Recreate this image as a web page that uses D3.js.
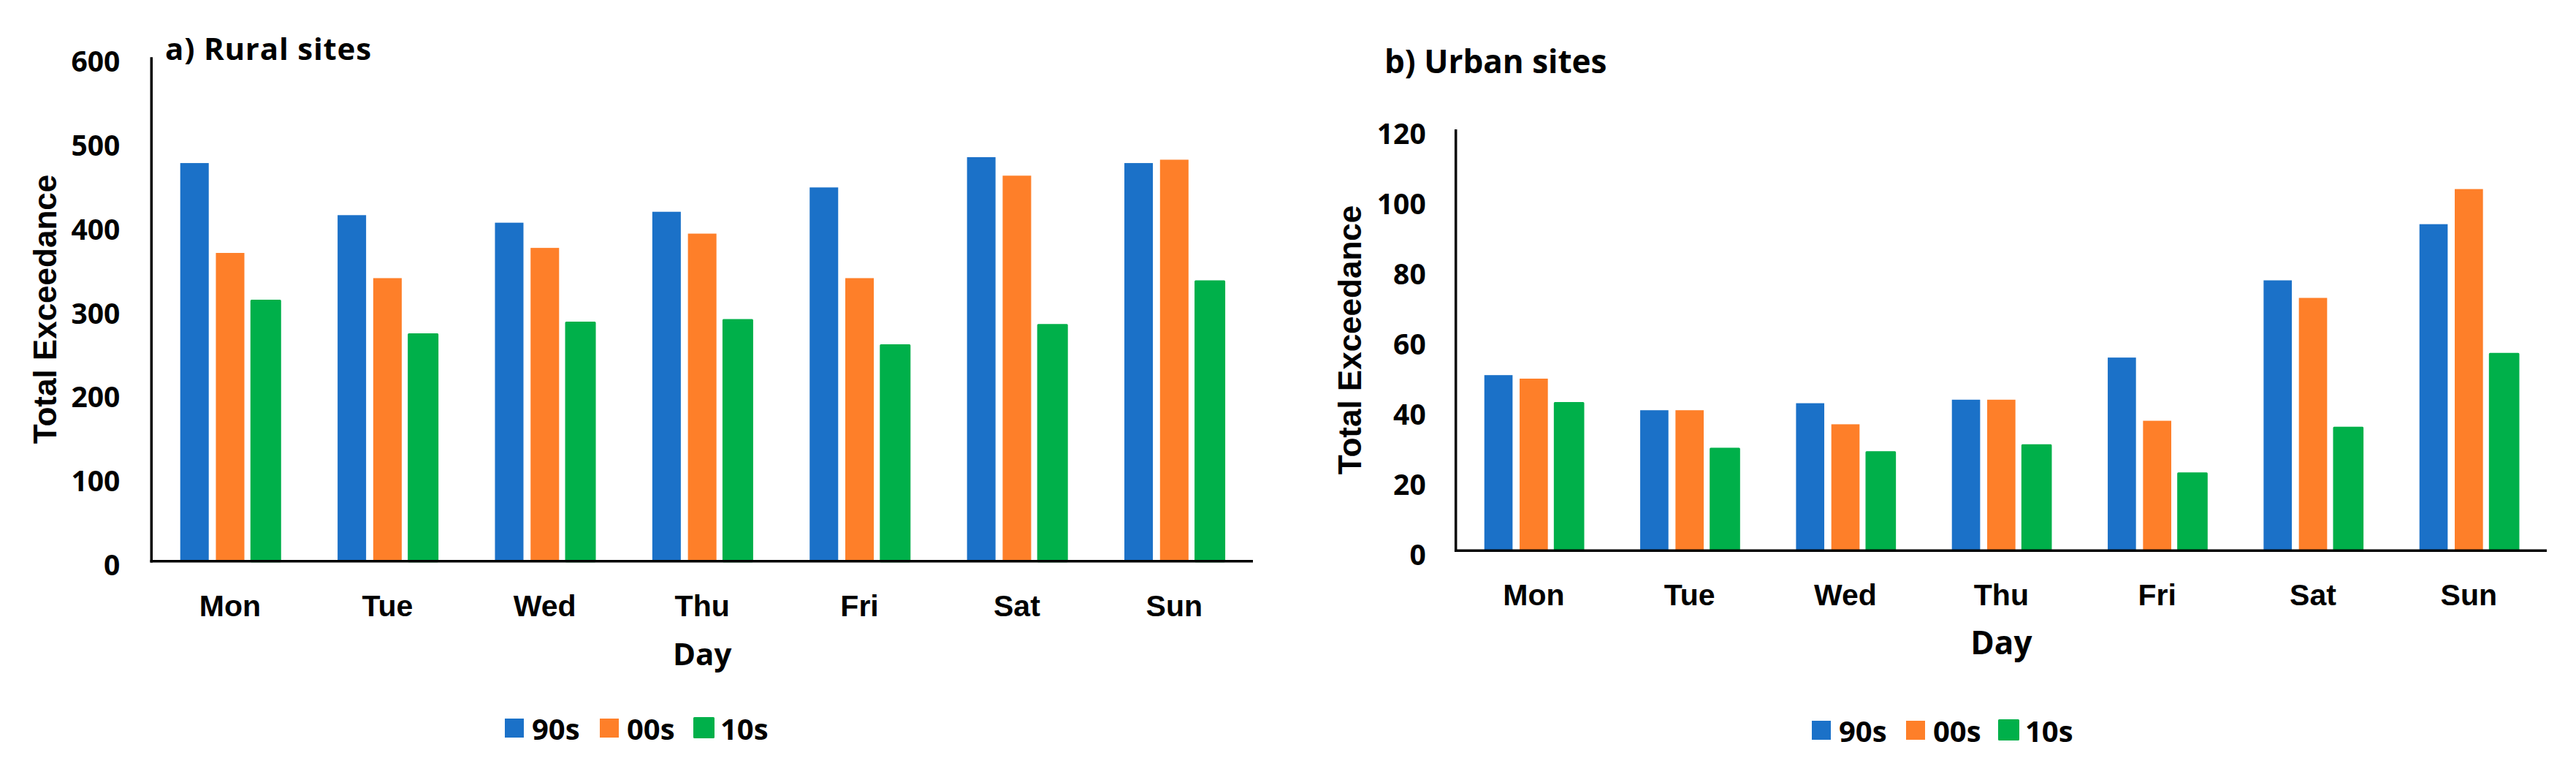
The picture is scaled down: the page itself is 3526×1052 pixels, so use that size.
<!DOCTYPE html>
<html>
<head>
<meta charset="utf-8">
<script src="https://cdn.jsdelivr.net/npm/d3@7"></script>
<style>
  html, body { margin: 0; padding: 0; background: #ffffff; }
  svg { display: block; }
</style>
</head>
<body>
<svg id="chart" width="3526" height="1052"></svg>
<script>
// ---- data ----
const days = ["Mon", "Tue", "Wed", "Thu", "Fri", "Sat", "Sun"];
const seriesNames = ["90s", "00s", "10s"];
const seriesColors = ["#1b71c8", "#fe7f29", "#00b04a"];

const rural90s = [474, 412, 403, 416, 445, 481, 474];
const rural00s = [367, 337, 373, 390, 337, 459, 478];
const rural10s = [310, 270, 284, 287, 257, 281, 333];

const urban90s = [50, 40, 42, 43, 55, 77, 93];
const urban00s = [49, 40, 36, 43, 37, 72, 103];
const urban10s = [42, 29, 28, 30, 22, 35, 56];

const ruralTicks = [0, 100, 200, 300, 400, 500, 600];
const urbanTicks = [0, 20, 40, 60, 80, 100, 120];

const ruralTitle = "a) Rural sites";
const urbanTitle = "b) Urban sites";
const yTitle = "Total Exceedance";
const xTitle = "Day";

// ---- drawing ----
const svg = d3.select("#chart");
svg.append("rect").attr("width", 3526).attr("height", 1052).attr("fill", "#fff");

const HUMAN = "'Open Sans', 'Noto Sans', sans-serif";
const ARIAL = "'Liberation Sans', Arial, sans-serif";

function drawPanel(cfg) {
  const g = svg.append("g");
  const series = [cfg.s90, cfg.s00, cfg.s10];

  const x0 = d3.scaleBand().domain(days).range([cfg.left, cfg.right]).paddingInner(0).paddingOuter(0);
  const groupW = x0.bandwidth() * 0.634;
  const x1 = d3.scaleBand().domain(seriesNames).range([0, groupW]).paddingInner(0.2).paddingOuter(0);
  const offset = (x0.bandwidth() - groupW) / 2;
  const y = d3.scaleLinear().domain([0, d3.max(cfg.ticks)]).range([cfg.bottom, cfg.top]);

  // bars
  seriesNames.forEach((name, si) => {
    const isGreen = si === 2;
    g.append("g").selectAll("rect")
      .data(days.map((d, i) => ({ day: d, v: series[si][i] })))
      .join("rect")
      .attr("x", d => x0(d.day) + offset + x1(name))
      .attr("y", d => y(d.v))
      .attr("width", x1.bandwidth())
      .attr("height", d => y(0) - y(d.v))
      .attr("fill", seriesColors[si])
      .attr("stroke", isGreen ? seriesColors[si] : "none")
      .attr("stroke-width", isGreen ? 3 : 0)
      .attr("stroke-linejoin", "round");
  });

  // y axis (labels)
  const yAxis = d3.axisLeft(y).tickValues(cfg.ticks).tickSize(0).tickPadding(cfg.tickPad).tickFormat(d3.format("d"));
  const ya = g.append("g").attr("transform", `translate(${cfg.left},0)`).call(yAxis);
  ya.select(".domain").remove();
  ya.selectAll("text")
    .attr("dy", "19px")
    .attr("font-family", HUMAN)
    .attr("font-weight", 700)
    .attr("font-size", 39)
    .attr("fill", "#000");

  // x axis (labels)
  const xAxis = d3.axisBottom(x0).tickSize(0).tickPadding(0);
  const xa = g.append("g").attr("transform", `translate(0,${cfg.bottom})`).call(xAxis);
  xa.select(".domain").remove();
  xa.selectAll("text")
    .attr("y", cfg.catOffset)
    .attr("dy", 0)
    .attr("font-family", ARIAL)
    .attr("font-weight", 700)
    .attr("font-size", 41)
    .attr("fill", "#000");

  // axis lines
  g.append("line")
    .attr("x1", cfg.left).attr("x2", cfg.left)
    .attr("y1", y(d3.max(cfg.ticks))).attr("y2", cfg.bottom + 1.75)
    .attr("stroke", "#000").attr("stroke-width", 3.5);
  g.append("line")
    .attr("x1", cfg.left - 1.75).attr("x2", cfg.right)
    .attr("y1", cfg.bottom).attr("y2", cfg.bottom)
    .attr("stroke", "#000").attr("stroke-width", 3.5);

  // title
  g.append("text")
    .attr("x", cfg.titleX).attr("y", cfg.titleY)
    .attr("font-family", HUMAN).attr("font-weight", 700)
    .attr("font-size", cfg.titleSize)
    .attr("letter-spacing", cfg.titleSpacing)
    .attr("fill", "#000")
    .text(cfg.title);

  // y title
  g.append("text")
    .attr("transform", `translate(${cfg.yTitleX},${cfg.yTitleY}) rotate(-90)`)
    .attr("text-anchor", "middle")
    .attr("font-family", ARIAL).attr("font-weight", 700)
    .attr("font-size", 44)
    .attr("fill", "#000")
    .text(yTitle);

  // x title
  g.append("text")
    .attr("x", (cfg.left + cfg.right) / 2).attr("y", cfg.dayY)
    .attr("text-anchor", "middle")
    .attr("font-family", HUMAN).attr("font-weight", 700)
    .attr("font-size", cfg.daySize)
    .attr("fill", "#000")
    .text(xTitle);

  // legend
  const lg = g.append("g");
  seriesNames.forEach((name, si) => {
    const lx = cfg.legendX[si];
    const isGreen = si === 2;
    lg.append("rect")
      .attr("x", lx + (isGreen ? 1.5 : 0))
      .attr("y", cfg.legendSqY + (isGreen ? -0.5 : 0))
      .attr("width", 26).attr("height", 26)
      .attr("fill", seriesColors[si])
      .attr("stroke", isGreen ? seriesColors[si] : "none")
      .attr("stroke-width", isGreen ? 3 : 0)
      .attr("stroke-linejoin", "round");
    lg.append("text")
      .attr("x", lx + 37).attr("y", cfg.legendTextY)
      .attr("font-family", HUMAN).attr("font-weight", 700)
      .attr("font-size", 40)
      .attr("fill", "#000")
      .text(name);
  });
}

drawPanel({
  s90: rural90s, s00: rural00s, s10: rural10s, ticks: ruralTicks,
  left: 207.3, right: 1715, top: 78.3, bottom: 767.7,
  tickPad: 43, catOffset: 75,
  title: ruralTitle, titleX: 226, titleY: 82, titleSize: 42, titleSpacing: 0.8,
  yTitleX: 77, yTitleY: 423,
  dayY: 910, daySize: 42,
  legendX: [691, 821, 949], legendSqY: 983, legendTextY: 1012
});

drawPanel({
  s90: urban90s, s00: urban00s, s10: urban10s, ticks: urbanTicks,
  left: 1992.7, right: 3486, top: 177, bottom: 753.3,
  tickPad: 41, catOffset: 75,
  title: urbanTitle, titleX: 1895, titleY: 100, titleSize: 44, titleSpacing: 0,
  yTitleX: 1863, yTitleY: 465,
  dayY: 895, daySize: 44,
  legendX: [2480, 2609, 2735], legendSqY: 986, legendTextY: 1015
});
</script>
</body>
</html>
